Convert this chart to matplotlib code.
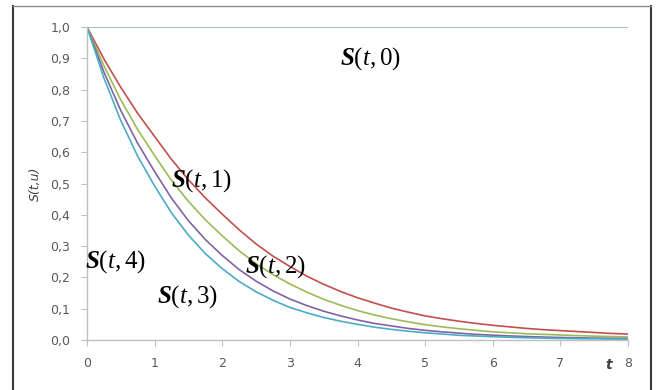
import matplotlib
matplotlib.use("Agg")
import matplotlib.pyplot as plt
from matplotlib.lines import Line2D

# --------------------------------
# DATOS
# --------------------------------

t = [0, 0.25, 0.5, 0.75, 1, 1.25, 1.5, 1.75, 2, 2.25, 2.5, 2.75, 3,
     3.25, 3.5, 3.75, 4, 4.25, 4.5, 4.75, 5, 5.25, 5.5, 5.75, 6,
     6.25, 6.5, 6.75, 7, 7.25, 7.5, 7.75, 8]

s0 = [1.0] * len(t)
s1 = [1.0, 0.898, 0.807, 0.724, 0.650, 0.577, 0.512, 0.454, 0.402,
      0.352, 0.307, 0.268, 0.235, 0.204, 0.178, 0.155, 0.135,
      0.118, 0.102, 0.089, 0.077, 0.068, 0.060, 0.053, 0.047,
      0.042, 0.037, 0.033, 0.030, 0.027, 0.024, 0.021, 0.019]
s2 = [1.0, 0.876, 0.767, 0.672, 0.589, 0.510, 0.443, 0.384, 0.333,
      0.285, 0.244, 0.209, 0.179, 0.153, 0.130, 0.111, 0.094,
      0.080, 0.068, 0.058, 0.049, 0.042, 0.036, 0.031, 0.026,
      0.023, 0.020, 0.018, 0.016, 0.014, 0.0123, 0.011, 0.0098]
s3 = [1.0, 0.856, 0.733, 0.628, 0.538, 0.453, 0.381, 0.321, 0.270,
      0.225, 0.188, 0.157, 0.131, 0.110, 0.092, 0.077, 0.064,
      0.053, 0.045, 0.037, 0.031, 0.026, 0.022, 0.018, 0.0155,
      0.013, 0.011, 0.0094, 0.008, 0.0070, 0.0061, 0.0053, 0.0046]
s4 = [1.0, 0.837, 0.701, 0.587, 0.492, 0.406, 0.335, 0.276, 0.228,
      0.187, 0.154, 0.127, 0.104, 0.087, 0.072, 0.060, 0.050,
      0.041, 0.034, 0.028, 0.023, 0.019, 0.015, 0.0127, 0.0105,
      0.0087, 0.0072, 0.0060, 0.005, 0.0042, 0.0036, 0.0031, 0.0026]

series = [s0, s1, s2, s3, s4]
colores = ["#8FB4D6", "#C0504D", "#9BBB59", "#8064A2", "#4BACC6"]

x_ticks = [0, 1, 2, 3, 4, 5, 6, 7, 8]
y_ticks = [0.0, 0.1, 0.2, 0.3, 0.4, 0.5, 0.6, 0.7, 0.8, 0.9, 1.0]
y_labels = ["0,0", "0,1", "0,2", "0,3", "0,4", "0,5",
            "0,6", "0,7", "0,8", "0,9", "1,0"]

etiquetas = [r"$\mathbf{S}(t,0)$", r"$\mathbf{S}(t,1)$", r"$\mathbf{S}(t,2)$",
             r"$\mathbf{S}(t,3)$", r"$\mathbf{S}(t,4)$"]
etiq_x = [3.74, 1.24, 2.34, 1.03, -0.03]
etiq_y = [0.90, 0.51, 0.235, 0.138, 0.25]

# --------------------------------
# FUENTES
# --------------------------------

plt.rcParams["mathtext.fontset"] = "custom"
plt.rcParams["mathtext.rm"] = "Liberation Serif"
plt.rcParams["mathtext.it"] = "Liberation Serif:italic"
plt.rcParams["mathtext.bf"] = "Liberation Serif:italic:bold"

# --------------------------------
# FIGURA
# --------------------------------

fig = plt.figure(figsize=(6.56, 3.9), dpi=100)
ax = fig.add_axes([87 / 656, 50 / 390, 541 / 656, 313 / 390])

for s, c in zip(series, colores):
    ax.plot(t, s, color=c, linewidth=1.2)

ax.set_xlim(0, 8)
ax.set_ylim(0, 1)

ax.set_xticks(x_ticks)
ax.set_yticks(y_ticks)
ax.set_yticklabels(y_labels)

for lado in ["top", "right"]:
    ax.spines[lado].set_visible(False)
for lado in ["left", "bottom"]:
    ax.spines[lado].set_color("#BFBFBF")
    ax.spines[lado].set_linewidth(1.0)

ax.tick_params(
    colors="#BFBFBF",
    labelcolor="#595959",
    labelsize=9,
    length=4,
    direction="out"
)
ax.tick_params(axis="x", pad=8)
ax.tick_params(axis="y", pad=8)

ax.set_ylabel(
    "S(t,u)",
    fontsize=9,
    style="italic",
    color="#404040",
    labelpad=6
)

# etiqueta t
ax.text(7.72, -0.08, "t", fontsize=10, fontweight="bold", style="italic",
        color="#404040", ha="center", va="center")

# etiquetas de curvas
for txt, xx, yy in zip(etiquetas, etiq_x, etiq_y):
    ax.text(xx, yy, txt, fontsize=18, color="black",
            ha="left", va="center", clip_on=False)

# --------------------------------
# MARCO
# --------------------------------

fig.add_artist(Line2D([13 / 656, 13 / 656], [0, 1 - 6 / 390],
                      transform=fig.transFigure, color="#3A3A3A", linewidth=1.5))
fig.add_artist(Line2D([651 / 656, 651 / 656], [0, 1 - 6 / 390],
                      transform=fig.transFigure, color="#3A3A3A", linewidth=1.5))
fig.add_artist(Line2D([13 / 656, 651 / 656], [1 - 6 / 390, 1 - 6 / 390],
                      transform=fig.transFigure, color="#8C8C8C", linewidth=1.0))

plt.savefig("out.png", dpi=100)
